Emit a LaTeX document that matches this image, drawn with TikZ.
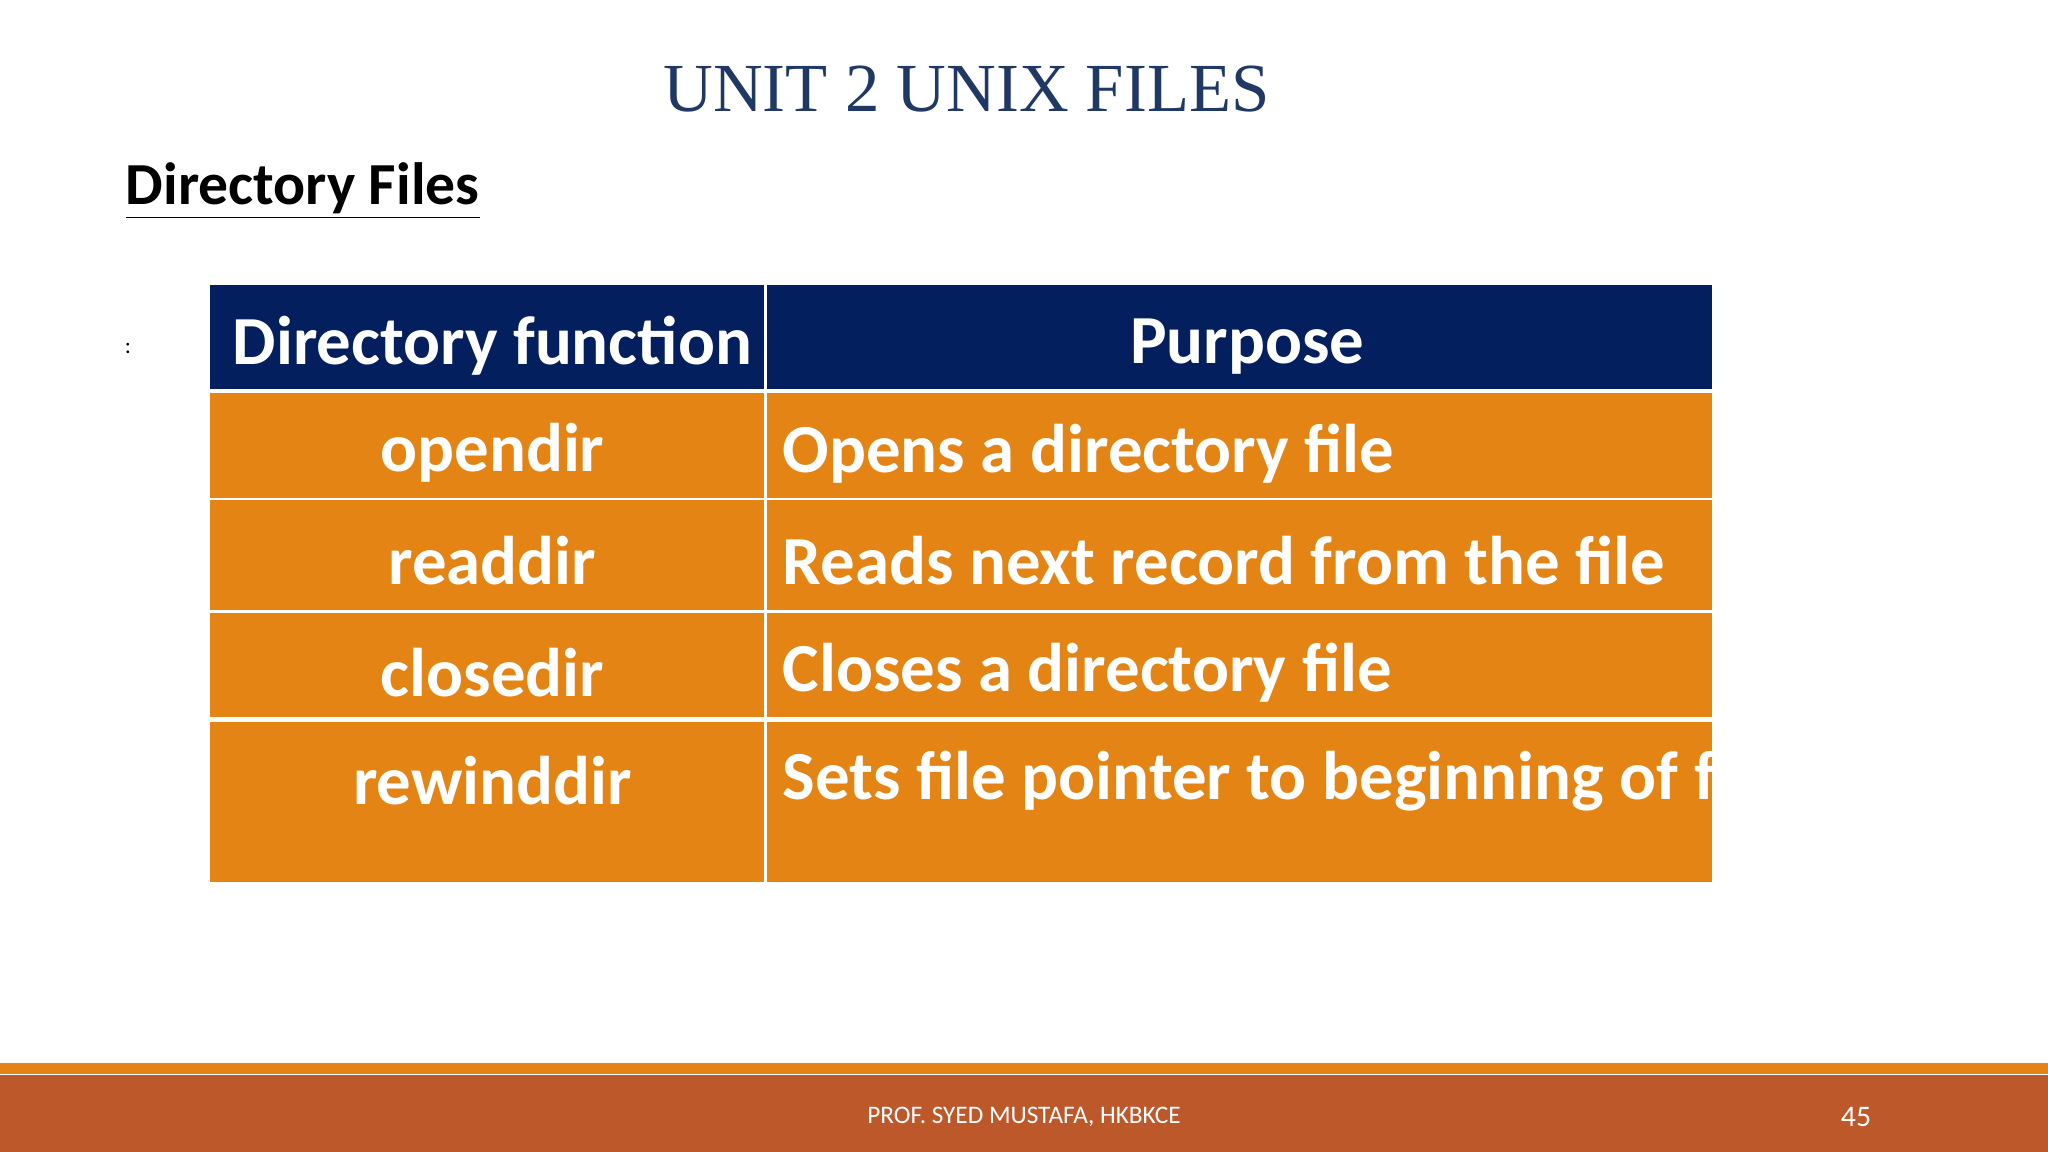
\documentclass[tikz,border=0pt]{standalone}
\usepackage{fontspec}
\setmainfont{Carlito}
\newfontfamily\titlefont{Liberation Serif}
\usepackage{xcolor}
\definecolor{navy}{HTML}{041F5E}
\definecolor{cellorange}{HTML}{E38415}
\definecolor{bandred}{HTML}{BD582B}
\definecolor{titleblue}{HTML}{1F3864}
\tikzset{
  cellfill/.style={fill=cellorange},
  celltext/.style={text=white,font=\fontsize{30}{34}\selectfont\bfseries,inner sep=0},
}
\begin{document}
\begin{tikzpicture}[x=0.02cm,y=-0.02cm]
\useasboundingbox (0,0) rectangle (1568,882);
\fill[white] (0,0) rectangle (1568,882);
% title and heading
\node[text=titleblue,font=\titlefont\fontsize{30}{34}\selectfont] (title) at (740,68) {UNIT 2 UNIX FILES};
\node[anchor=west,inner sep=0,font=\fontsize{26}{30}\selectfont\bfseries] (heading) at (96,146) {\underline{Directory Files}};
\node[font=\fontsize{10}{12}\selectfont] (colon) at (98,267) {:};
% table
\fill[navy] (161,218) rectangle (585,298);
\fill[navy] (587,218) rectangle (1311,298);
\fill[cellfill] (161,301) rectangle (585,381);
\fill[cellfill] (587,301) rectangle (1311,381);
\fill[cellfill] (161,383) rectangle (585,467);
\fill[cellfill] (587,383) rectangle (1311,467);
\fill[cellfill] (161,469) rectangle (585,549);
\fill[cellfill] (587,469) rectangle (1311,549);
\fill[cellfill] (161,553) rectangle (585,675);
\fill[cellfill] (587,553) rectangle (1311,675);
\node[celltext] (hfun) at (377,265) {Directory function};
\node[celltext] (hpur) at (955,265) {Purpose};
\node[celltext] (fopen) at (377,347) {opendir};
\node[celltext,anchor=west] (popen) at (599,347) {Opens a directory file};
\node[celltext] (fread) at (377,429) {readdir};
\node[celltext,anchor=west] (pread) at (599,429) {Reads next record from the file};
\node[celltext] (fclose) at (377,515) {closedir};
\node[celltext,anchor=west] (pclose) at (599,515) {Closes a directory file};
\node[celltext] (frew) at (377,598) {rewinddir};
\node[celltext,anchor=west] (prew) at (599,598) {Sets file pointer to beginning of file};
% footer
\fill[cellorange] (0,814) rectangle (1568,822);
\fill[bandred] (0,823) rectangle (1568,882);
\node[text=white,font=\fontsize{11}{13}\selectfont] (author) at (784,855) {PROF. SYED MUSTAFA, HKBKCE};
\node[text=white,font=\fontsize{13}{15}\selectfont] (page) at (1421,855) {45};
\end{tikzpicture}
\end{document}
